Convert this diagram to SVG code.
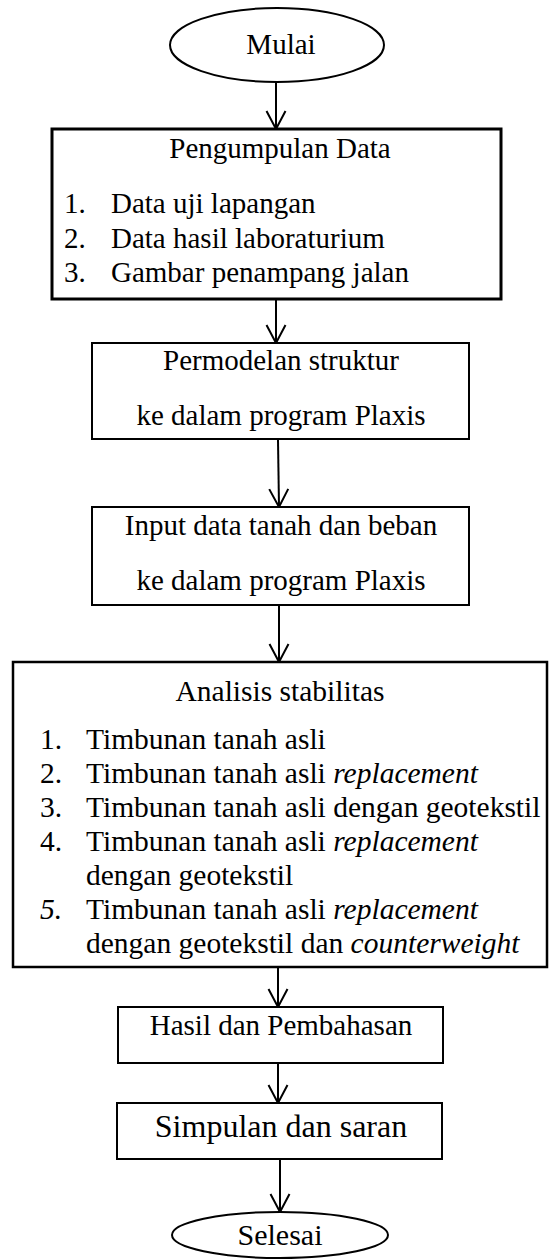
<svg xmlns="http://www.w3.org/2000/svg" width="549" height="1260" viewBox="0 0 549 1260">
<defs>
<style>
text{font-family:"Liberation Serif","Times New Roman",serif;font-size:29px;fill:#000}
.c{text-anchor:middle}
.i{font-style:italic}
.big text{font-size:29.5px}
.box{fill:#fff;stroke:#000;stroke-width:2}
.conn line{stroke:#000;stroke-width:2}
</style>
<marker id="ah" viewBox="0 0 22 22" markerWidth="22" markerHeight="22" refX="20" refY="11" orient="auto" markerUnits="userSpaceOnUse">
<path d="M2,1.5 L20,11 L2,20.5" fill="none" stroke="#000" stroke-width="2"/>
</marker>
</defs>
<rect width="549" height="1260" fill="#fff"/>
<g id="connectors" class="conn">
<line x1="276" y1="82" x2="276" y2="129" marker-end="url(#ah)"/>
<line x1="276" y1="300" x2="276" y2="343" marker-end="url(#ah)"/>
<line x1="278" y1="440" x2="279" y2="507" marker-end="url(#ah)"/>
<line x1="279" y1="606" x2="279" y2="662" marker-end="url(#ah)"/>
<line x1="278" y1="968" x2="278" y2="1007" marker-end="url(#ah)"/>
<line x1="278" y1="1064" x2="278" y2="1103" marker-end="url(#ah)"/>
<line x1="280" y1="1160" x2="280" y2="1212" marker-end="url(#ah)"/>
</g>
<g id="mulai">
<ellipse cx="277" cy="45" rx="107" ry="37" class="box"/>
<text x="281" y="54" class="c">Mulai</text>
</g>
<g id="pengumpulan">
<rect x="52" y="129" width="449" height="170" class="box" style="stroke-width:3"/>
<text x="280" y="158" class="c">Pengumpulan Data</text>
<text x="64" y="213">1.</text><text x="111" y="213">Data uji lapangan</text>
<text x="64" y="248">2.</text><text x="111" y="248">Data hasil laboraturium</text>
<text x="64" y="282">3.</text><text x="111" y="282">Gambar penampang jalan</text>
</g>
<g id="permodelan">
<rect x="92" y="343" width="377" height="96" class="box"/>
<text x="281" y="370" class="c">Permodelan struktur</text>
<text x="281" y="425" class="c">ke dalam program Plaxis</text>
</g>
<g id="input">
<rect x="92" y="507" width="377" height="98" class="box"/>
<text x="281" y="535" class="c">Input data tanah dan beban</text>
<text x="281" y="590" class="c">ke dalam program Plaxis</text>
</g>
<g id="analisis" class="big">
<rect x="13" y="662" width="534" height="305" class="box" style="stroke-width:2.5"/>
<text x="280" y="701" class="c">Analisis stabilitas</text>
<text x="40" y="749">1.</text><text x="86" y="749">Timbunan tanah asli</text>
<text x="40" y="783">2.</text><text x="86" y="783">Timbunan tanah asli <tspan class="i">replacement</tspan></text>
<text x="40" y="817">3.</text><text x="86" y="817">Timbunan tanah asli dengan geotekstil</text>
<text x="40" y="851">4.</text><text x="86" y="851">Timbunan tanah asli <tspan class="i">replacement</tspan></text>
<text x="86" y="885">dengan geotekstil</text>
<text x="40" y="919" class="i">5.</text><text x="86" y="919">Timbunan tanah asli <tspan class="i">replacement</tspan></text>
<text x="86" y="953">dengan geotekstil dan <tspan class="i">counterweight</tspan></text>
</g>
<g id="hasil">
<rect x="118" y="1007" width="325" height="56" class="box"/>
<text x="281" y="1035" class="c">Hasil dan Pembahasan</text>
</g>
<g id="simpulan">
<rect x="117" y="1103" width="325" height="56" class="box"/>
<text x="281" y="1137" class="c" style="font-size:32px">Simpulan dan saran</text>
</g>
<g id="selesai">
<ellipse cx="280" cy="1235" rx="108" ry="23" class="box"/>
<text x="280" y="1245" class="c" style="font-size:30px">Selesai</text>
</g>
</svg>
